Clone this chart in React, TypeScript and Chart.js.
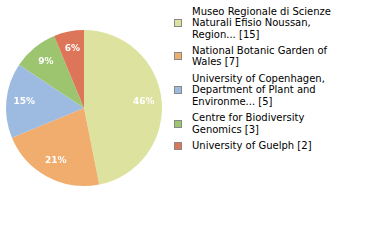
import React, { useEffect, useRef } from "react";
import { Chart, registerables } from "chart.js";

Chart.register(...registerables);

const categories = [
  "Museo Regionale di Scienze Naturali Efisio Noussan, Region...",
  "National Botanic Garden of Wales",
  "University of Copenhagen, Department of Plant and Environme...",
  "Centre for Biodiversity Genomics",
  "University of Guelph",
];
const counts = [15, 7, 5, 3, 2];
const colors = ["#dde39f", "#f0ad6d", "#9dbbe0", "#9dc56f", "#dd7559"];

const FONT = "'DejaVu Sans', sans-serif";

const pctLabels = {
  id: "pctLabels",
  afterDatasetsDraw(chart: any) {
    const ctx = chart.ctx;
    const meta = chart.getDatasetMeta(0);
    const data = chart.data.datasets[0].data as number[];
    const total = data.reduce((a, b) => a + b, 0);
    ctx.save();
    ctx.fillStyle = "#ffffff";
    ctx.font = `bold 9px ${FONT}`;
    ctx.textAlign = "center";
    ctx.textBaseline = "middle";
    meta.data.forEach((arc: any, i: number) => {
      const p = arc.getProps(["x", "y", "startAngle", "endAngle", "outerRadius"], true);
      const mid = (p.startAngle + p.endAngle) / 2;
      const r = p.outerRadius * 0.77;
      const pct = Math.floor((data[i] / total) * 100);
      ctx.fillText(pct + "%", p.x + Math.cos(mid) * r, p.y + Math.sin(mid) * r);
    });
    ctx.restore();
  },
};

export default function App() {
  const ref = useRef<HTMLCanvasElement>(null);
  useEffect(() => {
    if (!ref.current) return;
    const chart = new Chart(ref.current, {
      type: "pie",
      data: {
        labels: categories,
        datasets: [
          {
            data: counts,
            backgroundColor: colors,
            borderWidth: 0,
          },
        ],
      },
      options: {
        animation: false,
        responsive: false,
        maintainAspectRatio: false,
        layout: { padding: 6 },
        plugins: {
          legend: { display: false },
          tooltip: { enabled: false },
        },
      },
      plugins: [pctLabels],
    });
    return () => chart.destroy();
  }, []);

  return (
    <div
      style={{
        position: "absolute",
        left: 0,
        top: 0,
        width: 380,
        height: 240,
        background: "#fff",
        fontFamily: FONT,
      }}
    >
      <canvas
        ref={ref}
        width={168}
        height={216}
        style={{ position: "absolute", left: 0, top: 0, width: 168, height: 216 }}
      />
      <div style={{ position: "absolute", left: 174, top: 5.5 }}>
        {categories.map((c, i) => (
          <div
            key={i}
            style={{ display: "flex", alignItems: "center", marginBottom: 4.6 }}
          >
            <div
              style={{
                width: 6,
                height: 6,
                border: "1px solid #888",
                background: colors[i],
                flex: "none",
              }}
            />
            <div
              style={{
                marginLeft: 10,
                width: 150,
                fontSize: 10,
                lineHeight: "11.6px",
                color: "#000",
              }}
            >
              {c} [{counts[i]}]
            </div>
          </div>
        ))}
      </div>
    </div>
  );
}
